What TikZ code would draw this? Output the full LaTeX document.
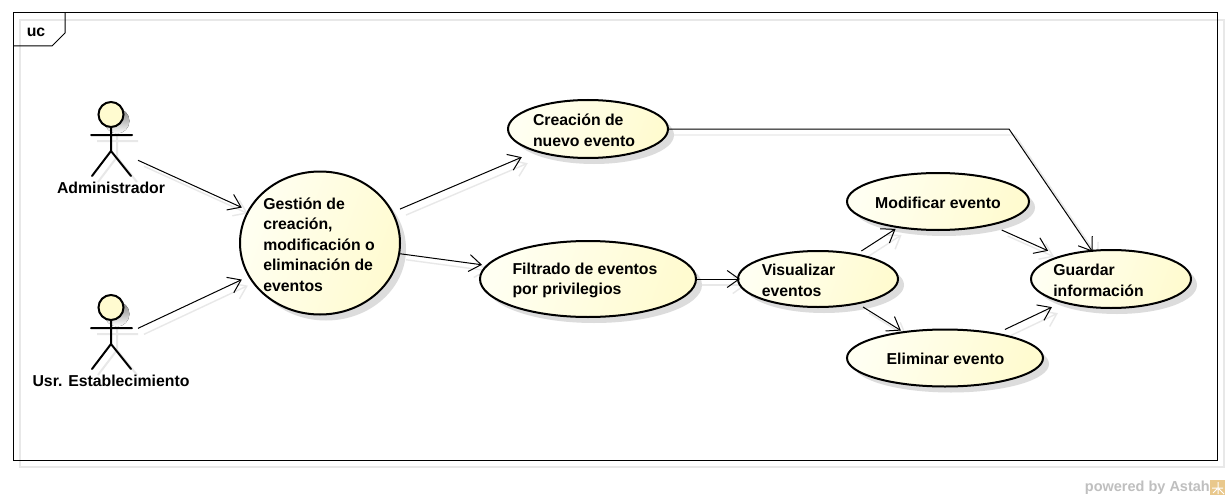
\documentclass[tikz,border=0pt]{standalone}
\usepackage{fontspec}
\setmainfont{Liberation Sans}
\usetikzlibrary{arrows.meta}
\pgfdeclarelayer{bg}
\pgfsetlayers{bg,main}
\definecolor{ucfill}{HTML}{FFFBD0}
\definecolor{ucpale}{HTML}{FFFFF2}
\definecolor{shade}{HTML}{DCDCDC}
\definecolor{shline}{HTML}{E8E8E8}
\definecolor{iconfill}{HTML}{E9C88C}
\tikzset{
  ucshape/.style={draw=black,line width=2pt,left color=ucpale,right color=ucfill,shading angle=70},
  ucshadow/.style={fill=shade},
  ucbox/.style={rectangle,draw=none,inner sep=0pt,outer sep=0pt},
  uctext/.style={inner sep=0pt,align=left,font=\bfseries\fontsize{15.8}{20.5}\selectfont},
  actorline/.style={line width=2pt,draw=black,line cap=round},
  actorshadow/.style={line width=2pt,draw=shline},
  actorbox/.style={rectangle,draw=none,inner sep=0pt,outer sep=0pt,minimum width=54pt,minimum height=96pt},
  actorlabel/.style={inner sep=0pt,font=\bfseries\fontsize{15.8}{20}\selectfont},
  conn/.style={draw=black,line width=1pt,shorten >=-2pt,-{Straight Barb[length=12pt,width=17pt,line width=1pt]}},
  connshadow/.style={draw=shline,line width=1.4pt,shorten >=-2pt,-{Straight Barb[length=12pt,width=17pt,line width=1.4pt]},
    transform canvas={xshift=6pt,yshift=-6pt}},
  framebox/.style={draw=black,line width=1pt},
  frameshadow/.style={draw=shline,line width=1.2pt},
  framelabel/.style={inner sep=0pt,font=\bfseries\fontsize{15.8}{20}\selectfont},
  wmark/.style={inner sep=0pt,text=black!25,font=\bfseries\fontsize{14.5}{16}\selectfont}
}
\newcommand{\usecase}[7]{%
  \begin{pgfonlayer}{bg}
    \fill[ucshadow] (#2+6,#3+6) ellipse [x radius=#4 pt,y radius=#5 pt];
  \end{pgfonlayer}
  \path[ucshape] (#2,#3) ellipse [x radius=#4 pt,y radius=#5 pt];
  \node[ucbox,minimum width=2*#4 pt,minimum height=2*#5 pt] (#1) at (#2,#3) {};
  \node[uctext] (#1-text) at (#2+#6,#3+1.3) {#7};
}
\newcommand{\actor}[4]{%
  \begin{pgfonlayer}{bg}
    \fill[shade] (#2+6,#3-33+6) circle [radius=12.5pt];
    \draw[actorshadow] (#2-20+6,#3-13+6) -- (#2+21+6,#3-13+6)
      (#2+6,#3-21+6) -- (#2+6,#3+3+6) -- (#2-19+6,#3+28+6)
      (#2+6,#3+3+6) -- (#2+20+6,#3+28+6);
  \end{pgfonlayer}
  \draw[actorline,fill=ucfill] (#2,#3-33.5) circle [radius=12.5pt];
  \draw[actorline] (#2-20,#3-13) -- (#2+21,#3-13)
    (#2,#3-21) -- (#2,#3+3) -- (#2-19,#3+28)
    (#2,#3+3) -- (#2+20,#3+28);
  \node[actorbox] (#1) at (#2,#3) {};
  \node[actorlabel] (#1-label) at (#2,#3+40) {#4};
}
\newcommand{\link}[2]{%
  \draw[conn] (#1) -- (#2);
  \begin{pgfonlayer}{bg}
    \draw[connshadow] (#1) -- (#2);
  \end{pgfonlayer}
}
\begin{document}
\begin{tikzpicture}[x=1pt,y=-1pt]
\useasboundingbox (0,0) rectangle (1230,500);
\begin{pgfonlayer}{bg}
  \fill[white] (0,0) rectangle (1230,500);
  \draw[frameshadow] (20,20) rectangle (1224,467);
\end{pgfonlayer}
\coordinate (frameA) at (13,13);
\coordinate (frameB) at (1217,460);
\draw[framebox] (frameA) rectangle (frameB);
\draw[framebox] (13,46) -- (52,46) -- (65,33) -- (65,13);
\node[framelabel] (uc) at (36,32) {uc};

\actor{adm}{111}{148}{Administrador}
\actor{usr}{111}{341}{Usr. Establecimiento}

\usecase{ges}{320}{243}{80}{71.5}{-1}{Gestión de\\creación,\\modificación o\\eliminación de\\eventos}
\usecase{cre}{588}{129}{80}{29}{-4}{Creación de\\nuevo evento}
\usecase{fil}{588}{279}{108}{38}{-3}{Filtrado de eventos\\por privilegios}
\usecase{vis}{818}{279}{80}{28}{-19.5}{Visualizar\\eventos}
\usecase{mod}{938}{201.5}{91}{28.5}{0}{Modificar evento}
\usecase{eli}{945}{358}{98}{28.5}{0.5}{Eliminar evento}
\usecase{gua}{1111}{279}{80}{29}{-12.5}{Guardar\\información}

\link{adm}{ges}
\link{usr}{ges}
\link{ges}{cre}
\link{ges}{fil}
\link{fil}{vis}
\link{vis}{mod}
\link{vis}{eli}
\link{mod}{gua}
\link{eli}{gua}
\coordinate (bend) at (1009,129);
\draw[conn] (cre) -- (bend) -- (gua);
\begin{pgfonlayer}{bg}
  \draw[connshadow] (cre) -- (bend) -- (gua);
\end{pgfonlayer}

\node[wmark,anchor=east] (wm) at (1210,488) {powered by Astah};
\fill[iconfill] (1210,480) rectangle (1225,495);
\draw[white,line width=1pt] (1212,488) -- (1223,488) (1218,482) -- (1218,494) (1213,493) -- (1217,489) (1219,489) -- (1224,494);
\end{tikzpicture}
\end{document}
